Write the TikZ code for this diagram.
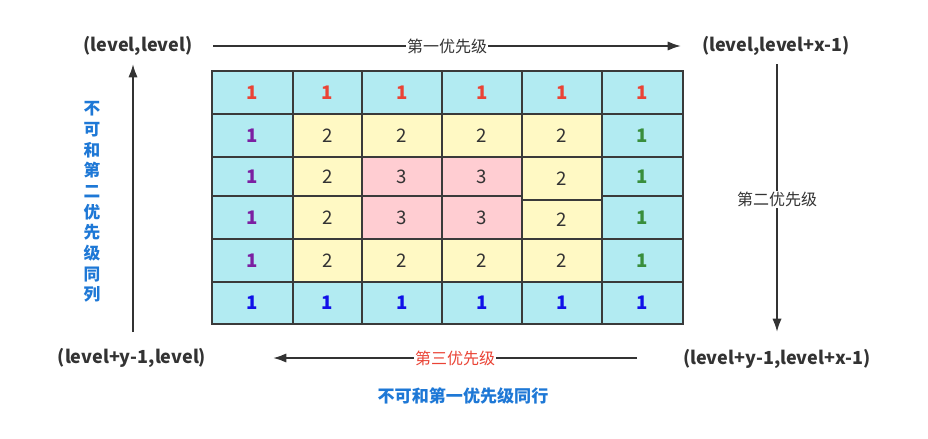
\documentclass[tikz,border=0pt]{standalone}
\usepackage{fontspec}
\setmainfont{Noto Sans CJK SC}
\usetikzlibrary{arrows.meta}
\definecolor{cyanc}{HTML}{B2EBF2}
\definecolor{yelc}{HTML}{FFF9C4}
\definecolor{pinkc}{HTML}{FFCDD2}
\definecolor{gridc}{HTML}{3A3A3A}
\definecolor{darkc}{HTML}{333333}
\definecolor{redc}{HTML}{EA4335}
\definecolor{purc}{HTML}{7B1FA2}
\definecolor{grnc}{HTML}{388E3C}
\definecolor{bluc}{HTML}{1010E8}
\definecolor{lblc}{HTML}{1E78D6}
\begin{document}
\begin{tikzpicture}[x=0.75pt,y=-0.75pt,
  corner/.style={font=\bfseries\fontsize{13.5}{16}\selectfont, text=darkc, inner sep=0pt},
  arr/.style={draw=darkc, line width=1.5pt, -{Latex[length=10pt,width=7pt]}},
  arrlbl/.style={fill=white, font=\fontsize{12}{14}\selectfont, inner sep=1pt},
  cellbox/.style={draw=gridc, line width=1.5pt},
  num/.style={inner sep=0pt}
]
\useasboundingbox[fill=white] (0,0) rectangle (928,439);

% cells: x1/y1/x2/y2/fill/text/colour/font/name
\foreach \xa/\ya/\xb/\yb/\f/\t/\c/\b/\n in {
  212/71/293/114/cyanc/1/redc/\bfseries/a1,
  293/71/362/114/cyanc/1/redc/\bfseries/a2,
  362/71/442/114/cyanc/1/redc/\bfseries/a3,
  442/71/522/114/cyanc/1/redc/\bfseries/a4,
  522/71/602/114/cyanc/1/redc/\bfseries/a5,
  602/71/683/114/cyanc/1/redc/\bfseries/a6,
  212/114/293/157/cyanc/1/purc/\bfseries/b1,
  293/114/362/157/yelc/2/darkc//b2,
  362/114/442/157/yelc/2/darkc//b3,
  442/114/522/157/yelc/2/darkc//b4,
  522/114/602/157/yelc/2/darkc//b5,
  602/114/683/157/cyanc/1/grnc/\bfseries/b6,
  212/157/293/196/cyanc/1/purc/\bfseries/c1,
  293/157/362/196/yelc/2/darkc//c2,
  362/157/442/196/pinkc/3/darkc//c3,
  442/157/522/196/pinkc/3/darkc//c4,
  522/157/602/200/yelc/2/darkc//c5,
  602/157/683/196/cyanc/1/grnc/\bfseries/c6,
  212/196/293/239/cyanc/1/purc/\bfseries/d1,
  293/196/362/239/yelc/2/darkc//d2,
  362/196/442/239/pinkc/3/darkc//d3,
  442/196/522/239/pinkc/3/darkc//d4,
  522/200/602/239/yelc/2/darkc//d5,
  602/196/683/239/cyanc/1/grnc/\bfseries/d6,
  212/239/293/282/cyanc/1/purc/\bfseries/e1,
  293/239/362/282/yelc/2/darkc//e2,
  362/239/442/282/yelc/2/darkc//e3,
  442/239/522/282/yelc/2/darkc//e4,
  522/239/602/282/yelc/2/darkc//e5,
  602/239/683/282/cyanc/1/grnc/\bfseries/e6,
  212/282/293/324/cyanc/1/bluc/\bfseries/f1,
  293/282/362/324/cyanc/1/bluc/\bfseries/f2,
  362/282/442/324/cyanc/1/bluc/\bfseries/f3,
  442/282/522/324/cyanc/1/bluc/\bfseries/f4,
  522/282/602/324/cyanc/1/bluc/\bfseries/f5,
  602/282/683/324/cyanc/1/bluc/\bfseries/f6}
{
  \filldraw[cellbox, fill=\f] (\xa,\ya) rectangle (\xb,\yb);
  \node[num, text=\c, font={\b\fontsize{14}{16}\selectfont}] (\n) at ({(\xa+\xb)/2},{(\ya+\yb)/2}) {\t};
}

% corner labels
\node[corner] (tl) at (138,46) {(level,level)};
\node[corner] (tr) at (776,46) {(level,level+x-1)};
\node[corner] (br) at (777,359) {(level+y-1,level+x-1)};
\node[corner] (bl) at (132,358) {(level+y-1,level)};

% arrow end points
\coordinate (t0) at (213,46);
\coordinate (t1) at (681,46);
\coordinate (r0) at (777,64);
\coordinate (r1) at (777,332);
\coordinate (b0) at (637,358);
\coordinate (b1) at (273,358);
\coordinate (l0) at (133,332);
\coordinate (l1) at (133,64);

\draw[arr] (t0) -- node[arrlbl, text=darkc] (lab1) {第一优先级} (t1);
\draw[arr] (r0) -- node[arrlbl, text=darkc, pos=0.505] (lab2) {第二优先级} (r1);
\draw[arr] (b0) -- node[arrlbl, text=redc, pos=0.5] (lab3) {第三优先级} (b1);
\draw[arr] (l0) -- (l1);

% blue notes
\node[font=\bfseries\fontsize{12.5}{15.5}\selectfont, text=lblc, align=center, inner sep=0pt] (vnote) at (92,202)
  {不\\可\\和\\第\\二\\优\\先\\级\\同\\列};
\node[font=\bfseries\fontsize{12.8}{15}\selectfont, text=lblc, inner sep=0pt] (hnote) at (463,396) {不可和第一优先级同行};
\end{tikzpicture}
\end{document}
